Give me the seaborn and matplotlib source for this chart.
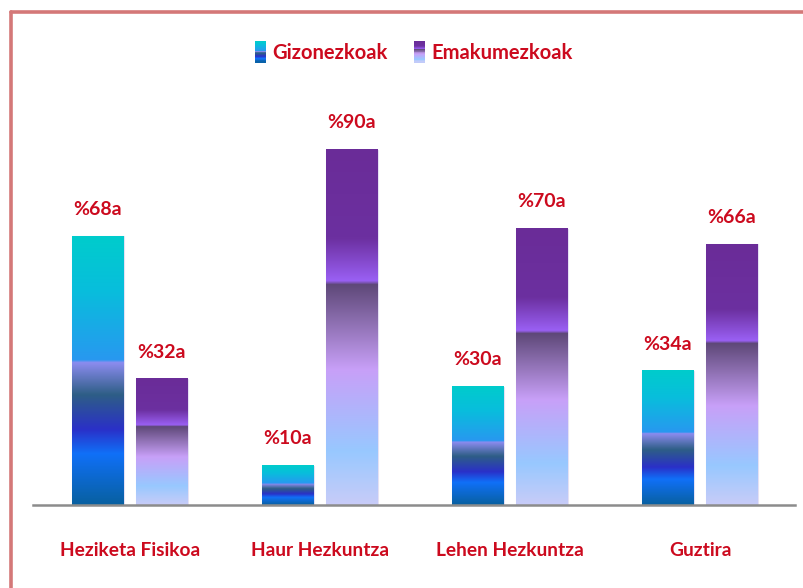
"""
Gizonezkoak / Emakumezkoak ehunekoak - gradientezko barra diagrama
"""

import numpy as np
import pandas as pd
import matplotlib
matplotlib.use('Agg')
import matplotlib.pyplot as plt
import seaborn as sns
from matplotlib.colors import LinearSegmentedColormap
from matplotlib.legend_handler import HandlerBase
from matplotlib.patches import Rectangle
from matplotlib.lines import Line2D

# datuak
kategoriak = ['Heziketa Fisikoa', 'Haur Hezkuntza', 'Lehen Hezkuntza', 'Guztira']
gizonezkoak = [68, 10, 30, 34]
emakumezkoak = [32, 90, 70, 66]
serieak = ['Gizonezkoak', 'Emakumezkoak']

GORRIA = '#CC0A1E'

# gradienteak (goitik behera, barraren altueraren zatikia)
urdina_stops = [
    (0.00, '#00CCCC'), (0.20, '#08BEDC'), (0.46, '#2898F0'),
    (0.47, '#8C8CF0'), (0.59, '#2E5E86'), (0.72, '#2A30C8'),
    (0.81, '#1070F8'), (1.00, '#0860A0'),
]
morea_stops = [
    (0.00, '#6A2C98'), (0.25, '#6C30A0'), (0.37, '#9A60F4'),
    (0.38, '#5E4878'), (0.62, '#C8A0F8'), (0.85, '#98C8FF'),
    (1.00, '#C8CCF8'),
]
cmap_urdina = LinearSegmentedColormap.from_list('urdina', urdina_stops)
cmap_morea = LinearSegmentedColormap.from_list('morea', morea_stops)
cmaps = {'Gizonezkoak': cmap_urdina, 'Emakumezkoak': cmap_morea}


class GradientHandler(HandlerBase):
    """Legendako lauki txikia gradientearekin"""

    def __init__(self, cmap, n=24):
        super().__init__()
        self.cmap = cmap
        self.n = n

    def create_artists(self, legend, orig_handle, xdescent, ydescent,
                       width, height, fontsize, trans):
        arts = []
        for i in range(self.n):
            frac = (i + 0.5) / self.n
            y0 = -ydescent + height * (1 - (i + 1) / self.n)
            r = Rectangle((-xdescent, y0), width, height / self.n + 0.3,
                          facecolor=self.cmap(frac), lw=0, transform=trans)
            arts.append(r)
        return arts


df = pd.DataFrame({
    'kategoria': kategoriak * 2,
    'ehunekoa': gizonezkoak + emakumezkoak,
    'sexua': [serieak[0]] * len(kategoriak) + [serieak[1]] * len(kategoriak),
})

sns.set_style('white')
plt.rcParams['font.family'] = ['Lato', 'DejaVu Sans']

fig = plt.figure(figsize=(8.04, 5.88), dpi=100)
ax = fig.add_axes([33 / 804, 83 / 588, 762 / 804, 434.5 / 588])

sns.barplot(data=df, x='kategoria', y='ehunekoa', hue='sexua',
            hue_order=serieak, order=kategoriak,
            palette=['#1090E0', '#8040B0'], width=0.674, gap=0.19,
            ax=ax, legend=False)

# barrak gradientez bete
grad = np.linspace(0, 1, 256).reshape(-1, 1)
for serie, cont in zip(serieak, ax.containers):
    cmap = cmaps[serie]
    for bar in cont:
        x, y = bar.get_x(), bar.get_y()
        w, h = bar.get_width(), bar.get_height()
        bar.set_facecolor('none')
        bar.set_edgecolor('#E4E0F4')
        bar.set_linewidth(0.8)
        ax.imshow(grad, cmap=cmap, aspect='auto', extent=[x, x + w, y, y + h],
                  origin='upper', zorder=1.5, interpolation='bilinear')
    vals = [b.get_height() for b in cont]
    ax.bar_label(cont, labels=[f'%{v:.0f}a' for v in vals], padding=13,
                 color=GORRIA, fontweight='bold', fontsize=14)

ax.set_xlim(-0.51, 3.5)
ax.set_ylim(0, 110)

for s in ['top', 'right', 'left']:
    ax.spines[s].set_visible(False)
ax.spines['bottom'].set_color('#8C8C8C')
ax.spines['bottom'].set_linewidth(1.8)
ax.set_yticks([])
ax.set_xlabel('')
ax.set_ylabel('')
ax.tick_params(axis='x', length=0, pad=27, labelsize=13.8, labelcolor=GORRIA)
for lbl in ax.get_xticklabels():
    lbl.set_fontweight('bold')

# legenda
handles = [Rectangle((0, 0), 1, 1), Rectangle((0, 0), 1, 1)]
leg = ax.legend(handles, serieak,
                handler_map={handles[0]: GradientHandler(cmap_urdina),
                             handles[1]: GradientHandler(cmap_morea)},
                loc='center', bbox_to_anchor=(0.5, (588 - 52 - 83) / 434.5),
                ncol=2, frameon=False, handlelength=0.55, handleheight=1.25,
                handletextpad=0.3, columnspacing=1.3, prop={'weight': 'bold', 'size': 14.5})
for t in leg.get_texts():
    t.set_color(GORRIA)

# kanpoko marko gorria
x0 = 11 / 804
ytop = 1 - 12 / 588
fig.add_artist(Line2D([x0, x0], [0, ytop], color='#D47878', lw=2.6, transform=fig.transFigure))
fig.add_artist(Line2D([x0, 1], [ytop, ytop], color='#D47878', lw=2.6, transform=fig.transFigure))

fig.savefig('out.png', dpi=100)
